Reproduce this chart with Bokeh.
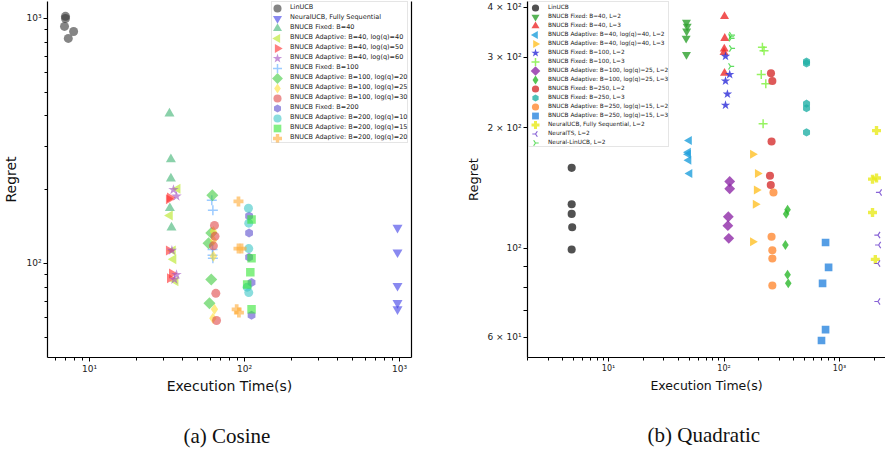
import math
from bokeh.plotting import figure
from bokeh.models import Range1d, FixedTicker, LogAxis, Title, Legend, LegendItem
from bokeh.layouts import row
from bokeh.embed import file_html
from bokeh.resources import INLINE

# ---------------- (a) Cosine ----------------
a_labels = [
    "LinUCB", "NeuralUCB, Fully Sequential", "BNUCB Fixed: B=40",
    "BNUCB Adaptive: B=40, log(q)=40", "BNUCB Adaptive: B=40, log(q)=50",
    "BNUCB Adaptive: B=40, log(q)=60", "BNUCB Fixed: B=100",
    "BNUCB Adaptive: B=100, log(q)=20", "BNUCB Adaptive: B=100, log(q)=25",
    "BNUCB Adaptive: B=100, log(q)=30", "BNUCB Fixed: B=200",
    "BNUCB Adaptive: B=200, log(q)=10", "BNUCB Adaptive: B=200, log(q)=15",
    "BNUCB Adaptive: B=200, log(q)=20",
]
a_time = [
    [7.0, 7.0, 6.9, 7.9, 7.3],
    [970, 970, 970, 970, 970],
    [32.8, 33.5, 33.5, 33.0, 33.8],
    [37.0, 33.0, 34.5, 34.8, 35.9],
    [33.0, 32.5, 32.5, 34.0, 33.0],
    [34.8, 36.4, 34.0, 36.4, 35.3],
    [61.5, 62.5, 62.2, 62.2, 62.5],
    [62.0, 61.0, 58.6, 61.0, 59.4],
    [63.0, 63.0, 63.0, 64.0, 62.5],
    [64.0, 64.5, 63.0, 65.3, 66.0],
    [107, 107, 107, 111, 111],
    [106, 106.5, 106.5, 106.5, 104],
    [111, 111, 109, 104, 111],
    [91.4, 95.7, 91.4, 89.0, 92.0],
]
a_regret = [
    [1020, 1000, 928, 885, 829],
    [140, 111, 81, 69, 65],
    [409, 266, 222, 168, 140],
    [202, 157, 113, 104, 84.5],
    [186, 183, 113, 91, 87],
    [200, 188, 113, 90, 86],
    [181, 165, 114, 108, 105],
    [190, 133, 121, 86, 68.7],
    [135, 124, 107, 65, 59.7],
    [143, 129, 118, 75.5, 58.5],
    [156, 133, 106, 83.6, 61.4],
    [168, 146, 115, 76, 80],
    [151, 105, 92, 82, 65],
    [179, 115, 115, 65, 63],
]
a_colors = ["#333333", "#3a3ae6", "#3cb371", "#b5e61d", "#ff2a2a", "#a04cc0",
            "#5aa8ff", "#3fcc3f", "#ffe033", "#e04848", "#5a4ccd", "#3cc6c6",
            "#33e633", "#ffaa33"]
a_markers = ["circle", "inverted_triangle", "triangle", "tri_left_fill", "tri_right_fill",
             "star", "cross", "diamondD", "diamond", "circle", "pent",
             "circle", "square", "plus"]

# ---------------- (b) Quadratic ----------------
b_labels = [
    "LinUCB", "BNUCB Fixed: B=40, L=2", "BNUCB Fixed: B=40, L=3",
    "BNUCB Adaptive: B=40, log(q)=40, L=2", "BNUCB Adaptive: B=40, log(q)=40, L=3",
    "BNUCB Fixed: B=100, L=2", "BNUCB Fixed: B=100, L=3",
    "BNUCB Adaptive: B=100, log(q)=25, L=2", "BNUCB Adaptive: B=100, log(q)=25, L=3",
    "BNUCB Fixed: B=250, L=2", "BNUCB Fixed: B=250, L=3",
    "BNUCB Adaptive: B=250, log(q)=15, L=2", "BNUCB Adaptive: B=250, log(q)=15, L=3",
    "NeuralUCB, Fully Sequential, L=2", "NeuralTS, L=2", "Neural-LinUCB, L=2",
]
b_time = [
    [4.8, 4.8, 4.8, 4.85, 4.8],
    [47.3, 48.0, 47.5, 47.0, 47.3],
    [101, 101.5, 100.5, 100, 101],
    [50.0, 49.0, 49.0, 49.5, 50.5],
    [177, 195, 191, 187, 177],
    [103, 112, 103, 107, 103],
    [215, 222, 210, 230, 218],
    [112, 112, 109, 108, 110],
    [355, 345, 340, 355, 360],
    [255, 262, 258, 250, 254],
    [518, 518, 518, 518, 518],
    [268, 258, 262, 262, 262],
    [757, 804, 713, 757, 698],
    [2090, 1930, 2090, 1930, 2040],
    [2220, 2150, 2180, 2150, 2150],
    [116, 114, 115, 116, 114],
]
b_regret = [
    [159, 129, 122, 113, 99.4],
    [367, 359, 349, 335, 305],
    [380, 335, 315, 309, 274],
    [186, 174, 172, 166, 154],
    [172, 154, 140, 129, 104],
    [302, 272, 262, 243, 228],
    [318, 312, 272, 258, 205],
    [147, 141, 120, 114, 106],
    [125, 122, 102, 86, 81.8],
    [274, 262, 185, 152, 144],
    [293, 290, 230, 224, 195],
    [138, 107, 99, 94.4, 80.8],
    [103.5, 89.7, 81.8, 62.7, 58.9],
    [197, 149, 150, 123, 93.9],
    [138, 108, 102, 91.7, 73.7],
    [341, 338, 335, 316, 285],
]
b_colors = ["#333333", "#2ca02c", "#ee2a2a", "#1e9fdc", "#ffc125", "#2a2ad8",
            "#7cf03a", "#8e2aa8", "#2ab82a", "#d62f2f", "#22b0a6", "#ff8a33",
            "#2b86de", "#e8ea1a", "#6a3ccc", "#3ad43a"]
b_markers = ["circle", "inverted_triangle", "triangle", "tri_left_fill", "tri_right_fill",
             "star", "cross", "diamondD", "diamond", "circle", "hexp",
             "circle", "square", "plus", "tri_left", "tri_right"]

a_xticks = [10, 100, 1000]
a_xminor = [6, 7, 8, 9] + [k * 10 for k in range(2, 10)] + [k * 100 for k in range(2, 10)]
a_yticks = [100, 1000]
a_yminor = [50, 60, 70, 80, 90] + [k * 100 for k in range(2, 10)]
a_ylabels = {100: "10\u00b2", 1000: "10\u00b3"}
b_xticks = [10, 100, 1000]
b_xminor = list(range(2, 10)) + [k * 10 for k in range(2, 10)] + [k * 100 for k in range(2, 10)] + [2000]
b_yticks = [60, 70, 80, 90, 100, 200, 300, 400]
b_ylabels = {60: "6 \u00d7 10\u00b9", 70: "", 80: "", 90: "", 100: "10\u00b2",
             200: "2 \u00d7 10\u00b2", 300: "3 \u00d7 10\u00b2", 400: "4 \u00d7 10\u00b2"}
x_labels = {10: "10\u00b9", 100: "10\u00b2", 1000: "10\u00b3"}

HP = math.pi / 2
FRAME_H = 356


def add_series(p, x, y, marker, color, size, alpha, level="glyph"):
    kw = dict(size=size, fill_alpha=alpha, line_alpha=alpha, level=level)
    if marker in ("cross", "tri_left", "tri_right"):
        m, ang, f, lw = {"cross": ("cross", 0, 1.0, 1.5), "tri_left": ("y", -HP, 0.8, 1.2),
                         "tri_right": ("y", HP, 0.8, 1.2)}[marker]
        kw["size"] = size * f
        return p.scatter(x, y, marker=m, angle=ang, line_color=color, line_width=lw,
                         fill_color=None, **kw)
    m, ang, f = {
        "circle": ("circle", 0, 0.9), "inverted_triangle": ("inverted_triangle", 0, 1.0),
        "triangle": ("triangle", 0, 1.0), "tri_left_fill": ("triangle", HP, 1.0),
        "tri_right_fill": ("triangle", -HP, 1.0), "star": ("star", 0, 1.1),
        "diamondD": ("square", math.pi / 4, 0.85), "diamond": ("diamond", 0, 1.1),
        "pent": ("hex", HP, 0.9), "hexp": ("hex", HP, 0.9), "square": ("square", 0, 0.85),
        "plus": ("plus", 0, 1.0),
    }[marker]
    kw["size"] = size * f
    return p.scatter(x, y, marker=m, angle=ang, fill_color=color, line_color=None, **kw)


def style_axis(ax, ticks, minor, overrides, font_size):
    ax.ticker = FixedTicker(ticks=ticks, minor_ticks=minor)
    ax.major_label_overrides = overrides
    ax.major_label_text_font = "DejaVu Sans"
    ax.major_label_text_font_size = font_size
    ax.major_label_text_color = "#222222"
    ax.major_label_standoff = 2
    ax.major_tick_in = 0
    ax.major_tick_out = 4
    ax.minor_tick_in = 0
    ax.minor_tick_out = 3
    ax.axis_line_color = "black"
    ax.axis_line_width = 1.2
    ax.major_tick_line_color = "black"
    ax.minor_tick_line_color = "black"
    ax.axis_label_text_font = "DejaVu Sans"
    ax.axis_label_text_font_style = "normal"
    ax.axis_label_text_color = "#111111"


def make_fig(x_rng, y_rng, frame_w, border_l, border_r):
    p = figure(x_axis_type="log", y_axis_type="log", x_range=Range1d(*x_rng),
               y_range=Range1d(*y_rng), frame_width=frame_w, frame_height=FRAME_H,
               min_border_left=border_l, min_border_right=border_r, min_border_top=0,
               min_border_bottom=92, output_backend="svg", toolbar_location=None)
    p.xgrid.visible = False
    p.ygrid.visible = False
    p.outline_line_color = None
    p.background_fill_color = "white"
    p.border_fill_color = "white"
    return p


def log_interp(rng, frac):
    a, b = math.log10(rng[0]), math.log10(rng[1])
    return 10 ** (a + frac * (b - a))


def build_legend(p, xr, yr, fw, labels, markers, colors, size, alpha, box_x, row_h,
                 glyph_w, standoff, font_size):
    n = len(labels)
    box_h = n * row_h
    top = 2
    items = []
    gx = log_interp(xr, (box_x + glyph_w / 2) / fw)
    for i, (lab, mk, c) in enumerate(zip(labels, markers, colors)):
        proxy = p.scatter(x=[], y=[], marker="circle", size=1, fill_alpha=0, line_alpha=0)
        items.append(LegendItem(label=lab, renderers=[proxy]))
        cy = top + row_h * i + row_h / 2
        gy = log_interp(yr, 1 - cy / FRAME_H)
        a = 0.85 if lab == "LinUCB" and alpha > 0.7 else alpha
        add_series(p, [gx], [gy], mk, c, size, a, level="overlay")
    lg = Legend(items=items, location=(box_x, FRAME_H - top - box_h), margin=0, padding=0,
                spacing=0, glyph_width=glyph_w, glyph_height=row_h, label_height=row_h,
                label_standoff=standoff, label_text_font="DejaVu Sans",
                label_text_font_size=font_size, label_text_color="#222222",
                border_line_color="#cccccc", border_line_width=1,
                background_fill_alpha=0)
    p.add_layout(lg)


# ---- left figure
a_xr = (5.36, 1194)
a_yr = (41.3, 1173)
p1 = make_fig(a_xr, a_yr, 364, 40, 36)
for x, y, mk, c in zip(a_time, a_regret, a_markers, a_colors):
    add_series(p1, x, y, mk, c, 10, 0.6)
style_axis(p1.xaxis[0], a_xticks, a_xminor, x_labels, "9px")
style_axis(p1.yaxis[0], a_yticks, a_yminor, a_ylabels, "9px")
p1.xaxis.axis_label = "Execution Time(s)"
p1.yaxis.axis_label = "Regret"
p1.xaxis.axis_label_text_font_size = "14px"
p1.yaxis.axis_label_text_font_size = "14px"
p1.xaxis.axis_label_standoff = 1
p1.yaxis.axis_label_standoff = 4
rax = LogAxis(ticker=FixedTicker(ticks=[]), axis_line_color="black", axis_line_width=1.2,
              major_tick_line_color=None, minor_tick_line_color=None)
p1.add_layout(rax, "right")
build_legend(p1, a_xr, a_yr, 364, a_labels, a_markers, a_colors, 9, 0.6,
             box_x=224, row_h=10, glyph_w=12, standoff=6, font_size="6.5px")

# ---- right figure
b_xr = (1.99, 2500)
b_yr = (53.4, 414)
p2 = make_fig(b_xr, b_yr, 358, 80, 0)
for x, y, lab, mk, c in zip(b_time, b_regret, b_labels, b_markers, b_colors):
    add_series(p2, x, y, mk, c, 9, 0.85 if lab == "LinUCB" else 0.8)
style_axis(p2.xaxis[0], b_xticks, b_xminor, x_labels, "8px")
style_axis(p2.yaxis[0], b_yticks, [], b_ylabels, "9px")
p2.xaxis.axis_label = "Execution Time(s)"
p2.yaxis.axis_label = "Regret"
p2.xaxis.axis_label_text_font_size = "12.5px"
p2.yaxis.axis_label_text_font_size = "13px"
p2.xaxis.axis_label_standoff = 2
p2.yaxis.axis_label_standoff = 3
build_legend(p2, b_xr, b_yr, 358, b_labels, b_markers, b_colors, 8, 0.8,
             box_x=1, row_h=9, glyph_w=14, standoff=5, font_size="5.8px")

for p, txt in ((p1, "(a)  Cosine"), (p2, "(b)  Quadratic")):
    t = Title(text=txt, align="center", text_font="Liberation Serif",
              text_font_size="21px", text_font_style="normal", text_color="#111111",
              standoff=50)
    p.add_layout(t, "below")

layout = row(p1, p2)
layout.margin = (1, 0, 0, 0)

open("out.html", "w").write(file_html(layout, INLINE))
